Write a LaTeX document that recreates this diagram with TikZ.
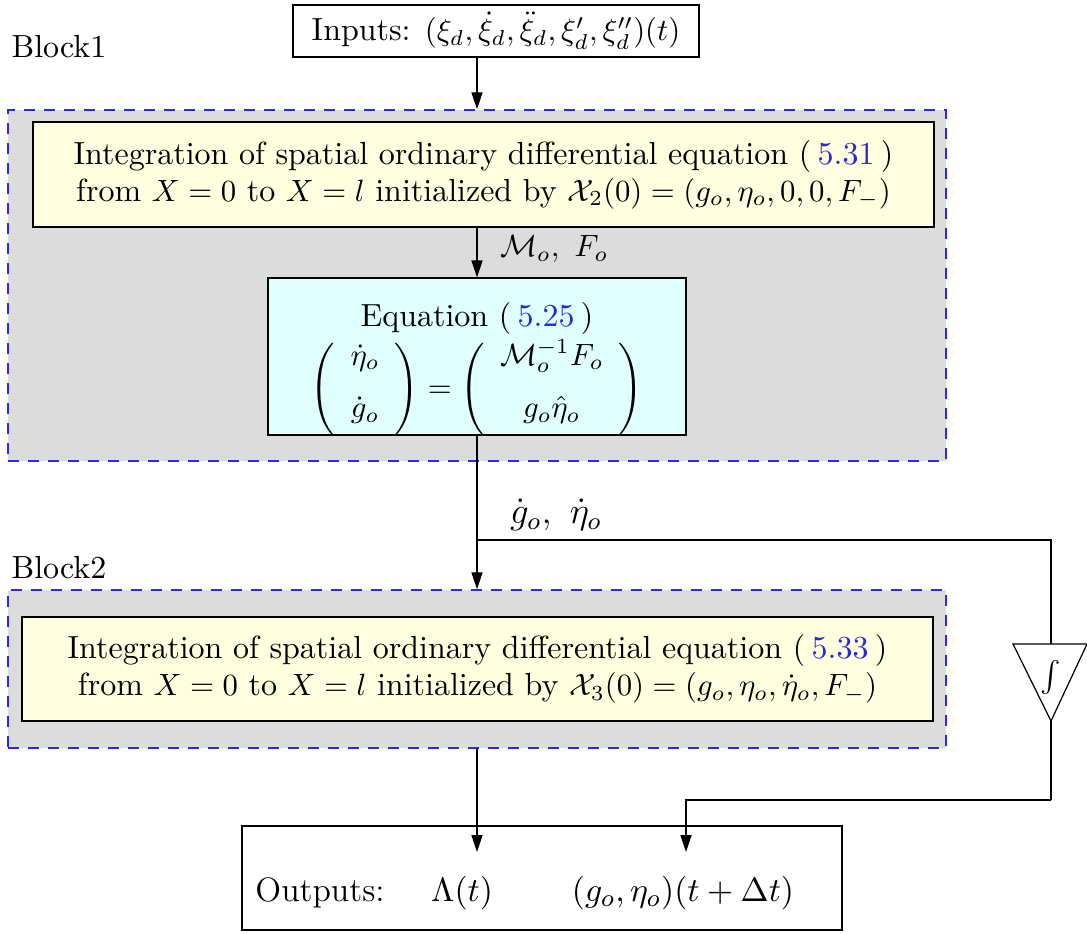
\documentclass[tikz,border=0pt]{standalone}
\usepackage{amsmath}
\usetikzlibrary{arrows.meta}
\definecolor{lyellow}{RGB}{255,255,224}
\definecolor{lcyan}{RGB}{224,255,255}
\definecolor{blkgray}{RGB}{220,220,220}
\definecolor{dashblue}{RGB}{40,40,245}
\definecolor{refblue}{RGB}{40,40,220}
\newcommand{\rf}[1]{(\hspace{0.2em}\textcolor{refblue}{#1}\hspace{0.2em})}
\newcommand{\colvec}[2]{\raisebox{2.8pt}{$\renewcommand{\arraystretch}{1.42}\begin{array}{c}#1\\ #2\end{array}$}}
\begin{document}
\def\u{0.325pt}
\begin{tikzpicture}[x=0.325pt,y=-0.325pt,
  font=\fontsize{10.4}{12}\selectfont,
  blockbg/.style={draw=dashblue, fill=blkgray, dash pattern=on 3.5pt off 3pt, line width=0.5pt, inner sep=0pt},
  ybox/.style={draw=black, fill=lyellow, inner sep=0pt, align=center, line width=0.4pt},
  cbox/.style={draw=black, fill=lcyan, inner sep=0pt, align=center, line width=0.4pt},
  wbox/.style={draw=black, fill=white, inner sep=0pt, align=center, line width=0.4pt},
  arr/.style={-{Triangle[length=5.5pt,width=3.6pt]}, line width=0.4pt},
  conn/.style={line width=0.4pt},
  lbl/.style={inner sep=0pt},
  outfont/.style={font=\fontsize{11}{13}\selectfont}]
\useasboundingbox (0,0) rectangle (1087,933);

% backgrounds of blocks
\node[blockbg, minimum width=938*\u, minimum height=351*\u] (blk1) at (477,285.5) {};
\node[blockbg, minimum width=938*\u, minimum height=158*\u] (blk2) at (477,669) {};
\node[lbl, anchor=west] (b1lab) at (11,47) {Block1};
\node[lbl, anchor=west] (b2lab) at (11,568) {Block2};

% boxes
\node[wbox, minimum width=406*\u, minimum height=52*\u] (inputs) at (496,31)
  {Inputs: $(\xi_d,\dot{\xi}_d,\ddot{\xi}_d,\xi_d',\xi_d'')(t)$};
\node[ybox, minimum width=901*\u, minimum height=105*\u] (ode1) at (483.5,174.5)
  {Integration of spatial ordinary differential equation \rf{5.31}\\
   from $X=0$ to $X=l$ initialized by $\mathcal{X}_2(0)=(g_o,\eta_o,0,0,F_{-})$};
\node[cbox, minimum width=418*\u, minimum height=157*\u] (eqn) at (477,356.5) {};
\node[lbl] (eqtitle) at (477,318) {Equation \rf{5.25}};
\node[lbl] (eqmat) at (477,382)
  {$\Biggl(\colvec{\dot{\eta}_o}{\dot{g}_o}\Biggr)=
    \Biggl(\colvec{\mathcal{M}_o^{-1}F_o}{g_o\hat{\eta}_o}\Biggr)$};
\node[ybox, minimum width=911*\u, minimum height=104*\u] (ode2) at (477.5,669)
  {Integration of spatial ordinary differential equation \rf{5.33}\\
   from $X=0$ to $X=l$ initialized by $\mathcal{X}_3(0)=(g_o,\eta_o,\dot{\eta}_o,F_{-})$};
\node[wbox, minimum width=600*\u, minimum height=104*\u] (outputs) at (542,878) {};
\node[lbl, outfont] (outlab) at (320,893) {Outputs:};
\node[lbl, outfont] (lam) at (462,893) {$\Lambda(t)$};
\node[lbl, outfont] (geta) at (683,893) {$(g_o,\eta_o)(t+\Delta t)$};

% integrator triangle
\coordinate (tritop) at (1051,644);
\coordinate (triapex) at (1051,721);
\draw[conn, fill=white] (1013,644) -- (1087,644) -- (triapex) -- cycle;
\node[lbl] (integ) at (1051,678) {$\int$};

% helper coordinates
\coordinate (spine) at (477,0);
\coordinate (br) at (477,540);
\coordinate (turn) at (1051,800);
\coordinate (tipL) at (477,852);
\coordinate (tipR) at (686,852);

% connectors
\draw[arr] (inputs.south -| spine) -- (blk1.north -| spine);
\draw[arr] (ode1.south -| spine) -- node[right, xshift=4pt, yshift=1pt, font=\normalsize] {$\mathcal{M}_o,\ F_o$} (eqn.north -| spine);
\draw[arr] (eqn.south -| spine) -- (blk2.north -| spine);
\node[lbl, font=\large] (gdlab) at (556,515) {$\dot{g}_o,\ \dot{\eta}_o$};
\draw[conn] (br) -| (tritop);
\draw[conn] (triapex) -- (turn);
\draw[arr] (turn) -| (tipR);
\draw[arr] (blk2.south -| spine) -- (tipL);
\end{tikzpicture}
\end{document}
